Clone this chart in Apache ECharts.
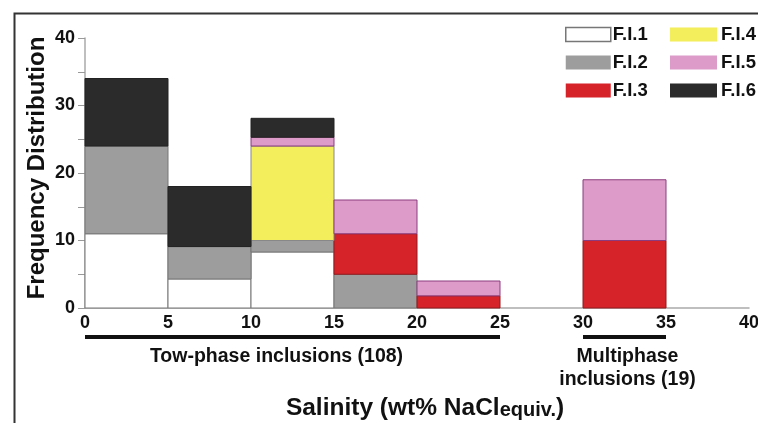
<!DOCTYPE html>
<html>
<head>
<meta charset="utf-8">
<script src="https://cdn.jsdelivr.net/npm/echarts@6/dist/echarts.min.js"></script>
<style>
html,body{margin:0;padding:0;background:#fff;}
#c{width:758px;height:423px;}
</style>
</head>
<body>
<div id="c"></div>
<script>
// Salinity bins (wt% NaCl equiv.)
var binStart = [0, 5, 10, 15, 20, 30];
var binEnd   = [5, 10, 15, 20, 25, 35];
// Frequencies per fluid-inclusion type (stacked bottom to top)
var seriesNames = ['F.I.1', 'F.I.2', 'F.I.3', 'F.I.4', 'F.I.5', 'F.I.6'];
var fi1 = [11, 4.3, 8.3, 0, 0, 0];
var fi2 = [13, 4.8, 1.7, 5, 0, 0];
var fi3 = [0, 0, 0, 6, 1.8, 10];
var fi4 = [0, 0, 14, 0, 0, 0];
var fi5 = [0, 0, 1.3, 5, 2.2, 9];
var fi6 = [10, 8.9, 2.8, 0, 0, 0];
// x tick labels
var xTicks = [0, 5, 10, 15, 20, 25, 30, 35, 40];
// group spans under the axis
var spanStart = [0, 30];
var spanEnd = [25, 35];
var spanLabels = ['Tow-phase inclusions (108)', 'Multiphase\ninclusions (19)'];

var FONT = "'Liberation Sans', Arial, sans-serif";
var fills   = ['#ffffff', '#9d9d9d', '#d6232a', '#f3ee5b', '#dc9bc9', '#2b2b2b'];
var borders = ['#777777', '#777777', '#8e1a1f', '#888888', '#8c3c7e', '#222222'];
var labelShift = [-16, 3];   // horizontal nudge of the span captions (px)
var allVals = [fi1, fi2, fi3, fi4, fi5, fi6];

var chart = echarts.init(document.getElementById('c'));

var base = binStart.map(function(){ return 0; });
var barSeries = allVals.map(function(vals, si){
  var data = [];
  for (var i = 0; i < vals.length; i++) {
    var b = base[i];
    var t = b + vals[i];
    data.push([binStart[i], binEnd[i], b, t]);
    base[i] = t;
  }
  return {
    type: 'custom',
    name: seriesNames[si],
    clip: false,
    itemStyle: {color: fills[si], borderColor: borders[si], borderWidth: 1},
    encode: {x: [0, 1], y: [2, 3]},
    data: data,
    renderItem: function(params, api){
      var x0 = api.value(0), x1 = api.value(1), b = api.value(2), t = api.value(3);
      if (!(t > b)) return null;
      var p0 = api.coord([x0, t]);
      var p1 = api.coord([x1, b]);
      return {
        type: 'rect',
        shape: {x: p0[0], y: p0[1], width: p1[0] - p0[0], height: p1[1] - p0[1]},
        style: {fill: fills[si], stroke: borders[si], lineWidth: 1}
      };
    }
  };
});

var spanSeries = {
  type: 'custom',
  name: 'spans',
  clip: false,
  silent: true,
  encode: {x: [0, 1], y: 2},
  data: spanStart.map(function(s, i){ return [s, spanEnd[i], 0]; }),
  renderItem: function(params, api){
    var p0 = api.coord([api.value(0), 0]);
    var p1 = api.coord([api.value(1), 0]);
    return {
      type: 'group',
      children: [
        {type: 'rect', shape: {x: p0[0], y: p0[1] + 27, width: p1[0] - p0[0], height: 4},
         style: {fill: '#111'}},
        {type: 'text', x: (p0[0] + p1[0]) / 2 + labelShift[params.dataIndex], y: p0[1] + 37,
         style: {text: spanLabels[params.dataIndex], fill: '#111',
                 font: 'bold 19.5px ' + FONT, align: 'center', verticalAlign: 'top',
                 lineHeight: 23}}
      ]
    };
  }
};

function legendItems(names){
  return names.map(function(n){
    var i = seriesNames.indexOf(n);
    return {name: n, icon: 'rect',
            itemStyle: {color: fills[i], borderColor: i === 0 ? '#777' : fills[i], borderWidth: i === 0 ? 1.5 : 0}};
  });
}

var option = {
  animation: false,
  backgroundColor: '#fff',
  textStyle: {fontFamily: FONT},
  grid: {left: 85, right: 9, top: 38, bottom: 115, containLabel: false, outerBoundsMode: 'none'},
  legend: [
    {left: 565, top: 25, padding: 0, orient: 'vertical', itemWidth: 45, itemHeight: 14, itemGap: 9,
     data: legendItems(['F.I.1', 'F.I.2', 'F.I.3']),
     textStyle: {fontSize: 18.5, fontWeight: 'bold', color: '#111', fontFamily: FONT, padding: [0,0,0,-3]}},
    {left: 670, top: 25, padding: 0, orient: 'vertical', itemWidth: 47, itemHeight: 14, itemGap: 9,
     data: legendItems(['F.I.4', 'F.I.5', 'F.I.6']),
     textStyle: {fontSize: 18.5, fontWeight: 'bold', color: '#111', fontFamily: FONT, padding: [0,0,0,-1]}}
  ],
  xAxis: {
    type: 'value', min: 0, max: 40, interval: 5,
    axisLine: {show: true, lineStyle: {color: '#aaaaaa', width: 1.5}},
    axisTick: {show: false},
    splitLine: {show: false},
    axisLabel: {fontSize: 18, fontWeight: 'bold', color: '#111', margin: 6, fontFamily: FONT,
      formatter: function(v){ return xTicks.indexOf(v) >= 0 ? String(v) : ''; }},
    name: '{a|Salinity (wt% NaCl}{b|equiv.}{a|)}',
    nameLocation: 'middle', nameGap: 88, nameMoveOverlap: false,
    nameTextStyle: {padding: [0, 0, 0, 16],
      rich: {a: {fontSize: 24.5, fontWeight: 'bold', color: '#111', fontFamily: FONT},
             b: {fontSize: 20, fontWeight: 'bold', color: '#111', fontFamily: FONT, padding: [4,0,0,0]}}}
  },
  yAxis: {
    type: 'value', min: 0, max: 40, interval: 5,
    axisLine: {show: true, lineStyle: {color: '#aaaaaa', width: 1.5}},
    axisTick: {show: true, length: 7, lineStyle: {color: '#999'}},
    splitLine: {show: false},
    axisLabel: {fontSize: 18, fontWeight: 'bold', color: '#111', margin: 10, fontFamily: FONT,
      formatter: function(v){ return v % 10 === 0 ? String(v) : ''; }},
    name: 'Frequency Distribution',
    nameLocation: 'middle', nameGap: 36, nameRotate: 90, nameMoveOverlap: false,
    nameTextStyle: {fontSize: 24, fontWeight: 'bold', color: '#111', fontFamily: FONT, padding: [0, 0, 0, 10]}
  },
  graphic: [
    {type: 'rect', left: 12, top: 11, shape: {x: 0, y: 0, width: 800, height: 500},
     style: {fill: 'none', stroke: '#333', lineWidth: 2}, silent: true}
  ],
  series: barSeries.concat([spanSeries])
};
chart.setOption(option);
</script>
</body>
</html>
